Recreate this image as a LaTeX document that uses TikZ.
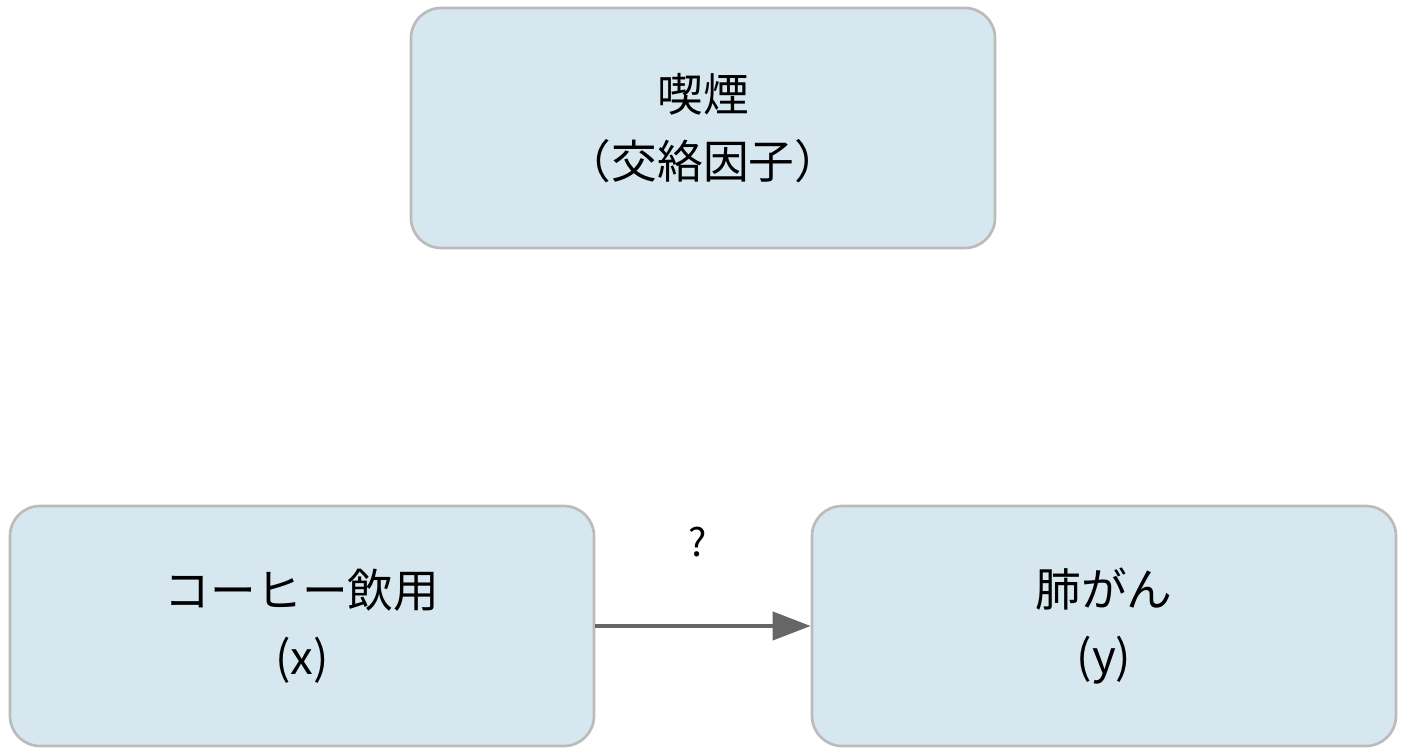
\documentclass[tikz,border=0pt]{standalone}
\usepackage{fontspec}
\setmainfont{Noto Sans CJK JP}
\usetikzlibrary{arrows.meta}
\definecolor{boxfill}{HTML}{D6E7EF}
\definecolor{boxline}{HTML}{BBBBBB}
\definecolor{arrowgray}{HTML}{666666}
\tikzset{
  factor/.style={draw=boxline,line width=1.5pt,fill=boxfill,rounded corners=0.6cm,
    minimum width=11.68cm,minimum height=4.8cm,align=center,
    font=\fontsize{26}{38}\selectfont},
  link/.style={draw=arrowgray,line width=2.3pt,-{Triangle[length=0.76cm,width=0.56cm]}}
}
\begin{document}
\begin{tikzpicture}
\useasboundingbox (0,0) rectangle (28.16,15.04);
\node[factor](smoke)at(14.06,12.48){喫煙\\（交絡因子）};
\node[factor](coffee)at(6.04,2.52){コーヒー飲用\\(x)};
\node[factor](cancer)at(22.08,2.52){肺がん\\(y)};
\draw[link](coffee)--(cancer);
\node[font=\fontsize{22}{26}\selectfont](ask)at(13.96,4.2){?};
\end{tikzpicture}
\end{document}
